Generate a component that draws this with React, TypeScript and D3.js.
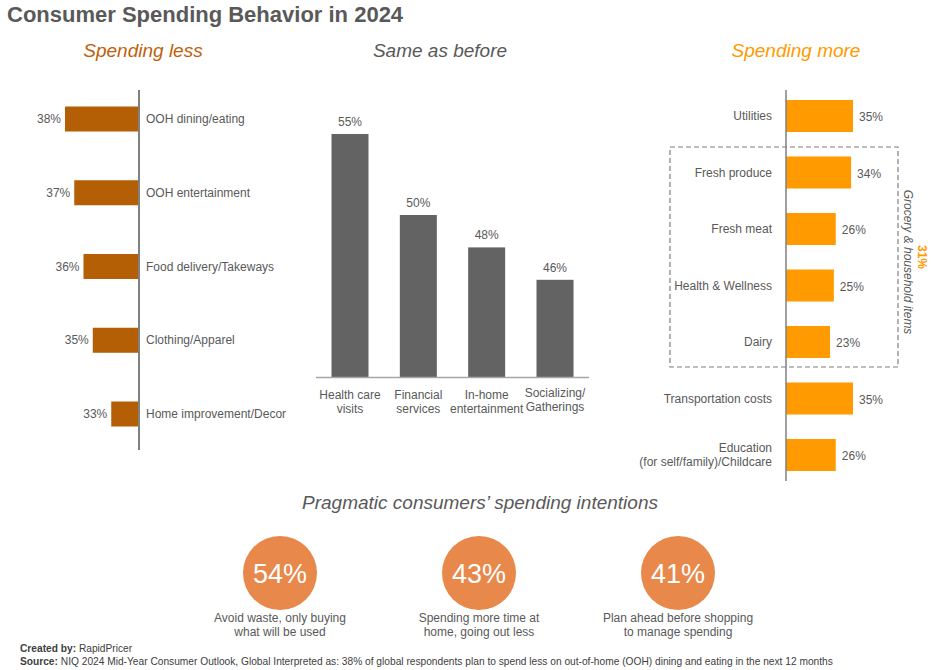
import React from 'react';
import * as d3 from 'd3';

// spending less
const lessCats = ['OOH dining/eating', 'OOH entertainment', 'Food delivery/Takeways', 'Clothing/Apparel', 'Home improvement/Decor'];
const lessVals = [38, 37, 36, 35, 33];

// same as before
const sameCats = [['Health care', 'visits'], ['Financial', 'services'], ['In-home', 'entertainment'], ['Socializing/', 'Gatherings']];
const sameVals = [55, 50, 48, 46];

// spending more
const moreCats = [['Utilities'], ['Fresh produce'], ['Fresh meat'], ['Health & Wellness'], ['Dairy'], ['Transportation costs'], ['Education', '(for self/family)/Childcare']];
const moreVals = [35, 34, 26, 25, 23, 35, 26];
const groceryShare = 31;

// intentions
const intentVals = [54, 43, 41];
const intentLabels = [['Avoid waste, only buying', 'what will be used'], ['Spending more time at', 'home, going out less'], ['Plan ahead before shopping', 'to manage spending']];

const FONT = '"Liberation Sans", Arial, sans-serif';
const GRAY = '#595959';
const BROWN = '#B45F06';
const ORANGE = '#FF9A00';

export default function App() {
  // left panel
  const lessAxisX = 139;
  const xLess = d3.scaleLinear().domain([30, 38]).range([0, 74]);
  const yLess = d3.scalePoint<string>().domain(lessCats).range([119, 414]);

  // middle panel
  const sameKeys = sameCats.map(c => c.join(' '));
  const xSame = d3.scalePoint<string>().domain(sameKeys).range([350, 555]);
  const ySame = d3.scaleLinear().domain([40, 55]).range([377, 134]);

  // right panel
  const moreAxisX = 786;
  const moreKeys = moreCats.map(c => c.join(' '));
  const xMore = d3.scaleLinear().domain([0, 35]).range([0, 67]);
  const yMore = d3.scalePoint<string>().domain(moreKeys).range([116, 455]);

  const xIntent = d3.scalePoint<number>().domain(d3.range(intentVals.length)).range([280, 678]);

  return (
    <svg width={944} height={670} style={{ position: 'absolute', left: 0, top: 0, background: '#fff' }} fontFamily={FONT}>
      <text x={7} y={22} fontSize={22} fontWeight="bold" fill={GRAY}>Consumer Spending Behavior in 2024</text>

      {/* headers */}
      <text x={143} y={57} fontSize={19} fontStyle="italic" fill="#C0600B" textAnchor="middle">Spending less</text>
      <text x={440} y={57} fontSize={19} fontStyle="italic" fill={GRAY} textAnchor="middle">Same as before</text>
      <text x={796} y={57} fontSize={19} fontStyle="italic" fill={ORANGE} textAnchor="middle">Spending more</text>

      {/* spending less */}
      {lessCats.map((c, i) => {
        const cy = yLess(c)!;
        const w = xLess(lessVals[i]);
        return (
          <g key={c}>
            <rect x={lessAxisX - w} y={cy - 12.5} width={w} height={25} fill={BROWN} />
            <text x={lessAxisX - w - 4} y={cy + 4} fontSize={12} fill={GRAY} textAnchor="end">{lessVals[i]}%</text>
            <text x={lessAxisX + 7} y={cy + 4} fontSize={12} fill={GRAY}>{c}</text>
          </g>
        );
      })}
      <line x1={lessAxisX} x2={lessAxisX} y1={90} y2={450} stroke="#808080" strokeWidth={2} />

      {/* same as before */}
      {sameKeys.map((k, i) => {
        const cx = xSame(k)!;
        const top = ySame(sameVals[i]);
        return (
          <g key={k}>
            <rect x={cx - 18.5} y={top} width={37} height={ySame(40) - top} fill="#636363" />
            <text x={cx} y={top - 8} fontSize={12} fill={GRAY} textAnchor="middle">{sameVals[i]}%</text>
            {sameCats[i].map((t, j) => (
              <text key={j} x={cx} y={399 + j * 14 - (i === 3 ? 2 : 0)} fontSize={12} fill={GRAY} textAnchor="middle">{t}</text>
            ))}
          </g>
        );
      })}
      <line x1={316} x2={589} y1={377.5} y2={377.5} stroke="#A6A6A6" strokeWidth={1.5} />

      {/* spending more */}
      <rect x={670} y={147} width={228} height={220} fill="none" stroke="#7F7F7F" strokeWidth={1.2} strokeDasharray="5,3" />
      {moreKeys.map((k, i) => {
        const cy = yMore(k)!;
        const w = xMore(moreVals[i]);
        const lines = moreCats[i];
        return (
          <g key={k}>
            <rect x={moreAxisX} y={cy - 16} width={w} height={32} fill={ORANGE} />
            <text x={moreAxisX + w + 6} y={cy + 5} fontSize={12} fill={GRAY}>{moreVals[i]}%</text>
            {lines.map((t, j) => (
              <text key={j} x={772} y={cy + 4 + (j - (lines.length - 1) / 2) * 14} fontSize={12} fill={GRAY} textAnchor="end">{t}</text>
            ))}
          </g>
        );
      })}
      <line x1={moreAxisX} x2={moreAxisX} y1={90} y2={481} stroke="#808080" strokeWidth={1.5} />
      <text transform="translate(904,262) rotate(90)" fontSize={12} fontStyle="italic" fill={GRAY} textAnchor="middle">Grocery &amp; household items</text>
      <text transform="translate(918,257) rotate(90)" fontSize={12} fontWeight="bold" fill={ORANGE} textAnchor="middle">{groceryShare}%</text>

      {/* intentions */}
      <text x={480} y={509} fontSize={19} fontStyle="italic" fill={GRAY} textAnchor="middle">Pragmatic consumers’ spending intentions</text>
      {intentVals.map((v, i) => {
        const cx = xIntent(i)!;
        return (
          <g key={i}>
            <circle cx={cx} cy={573} r={37} fill="#E8884B" />
            <text x={cx} y={583} fontSize={27} fill="#fff" textAnchor="middle">{v}%</text>
            {intentLabels[i].map((t, j) => (
              <text key={j} x={cx} y={622 + j * 14} fontSize={12} fill={GRAY} textAnchor="middle">{t}</text>
            ))}
          </g>
        );
      })}

      {/* footer */}
      <text x={20} y={652} fontSize={10.2} fill="#404040"><tspan fontWeight="bold">Created by:</tspan> RapidPricer</text>
      <text x={20} y={665} fontSize={10.2} fill="#404040"><tspan fontWeight="bold">Source:</tspan> NIQ 2024 Mid-Year Consumer Outlook, Global Interpreted as: 38% of global respondents plan to spend less on out-of-home (OOH) dining and eating in the next 12 months</text>
    </svg>
  );
}
